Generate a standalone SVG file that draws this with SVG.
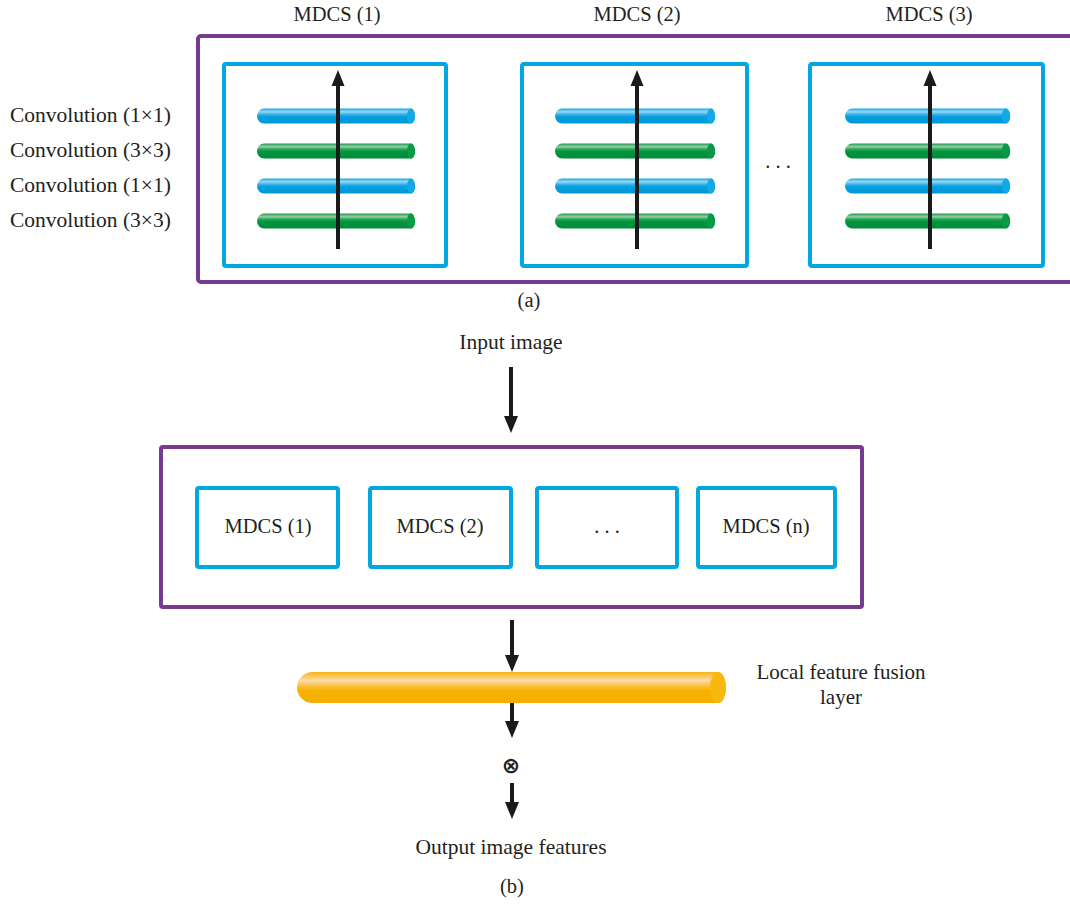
<svg xmlns="http://www.w3.org/2000/svg" xmlns:xlink="http://www.w3.org/1999/xlink" width="1070" height="904" viewBox="0 0 1070 904">
<defs>
<style>
text{font-family:"Liberation Serif","Times New Roman",serif;font-size:20.5px;fill:#231f20}
.c{text-anchor:middle}
.w{font-size:21.5px}
.purple{fill:none;stroke:#763a8f;stroke-width:4}
.cyan{fill:none;stroke:#00a7e1;stroke-width:4}
.arr{stroke:#1a1a1a;stroke-width:4;fill:none}
.head{fill:#1a1a1a}
</style>
<linearGradient id="gB" x1="0" y1="0" x2="0" y2="1">
<stop offset="0" stop-color="#1aa6e2"/>
<stop offset="0.22" stop-color="#9ad8f4"/>
<stop offset="0.38" stop-color="#3db4e8"/>
<stop offset="0.55" stop-color="#00a0df"/>
<stop offset="1" stop-color="#0096d6"/>
</linearGradient>
<linearGradient id="gG" x1="0" y1="0" x2="0" y2="1">
<stop offset="0" stop-color="#1a9c4c"/>
<stop offset="0.22" stop-color="#94d0a4"/>
<stop offset="0.38" stop-color="#2aa458"/>
<stop offset="0.55" stop-color="#009540"/>
<stop offset="1" stop-color="#008c3a"/>
</linearGradient>
<linearGradient id="gY" x1="0" y1="0" x2="0" y2="1">
<stop offset="0" stop-color="#f7b414"/>
<stop offset="0.28" stop-color="#fddcaa"/>
<stop offset="0.45" stop-color="#f9c040"/>
<stop offset="0.6" stop-color="#f7b200"/>
<stop offset="1" stop-color="#f5ae00"/>
</linearGradient>
<g id="rodB">
<path d="M7,-7.5 H154 A4,7.5 0 0 1 154,7.5 H7 A7,7.5 0 0 1 7,-7.5 Z" fill="url(#gB)"/>
<ellipse cx="154" cy="0" rx="4" ry="7.5" fill="#13a9e6"/>
</g>
<g id="rodG">
<path d="M7,-7.5 H154 A4,7.5 0 0 1 154,7.5 H7 A7,7.5 0 0 1 7,-7.5 Z" fill="url(#gG)"/>
<ellipse cx="154" cy="0" rx="4" ry="7.5" fill="#0a9a45"/>
</g>
<g id="stack">
<use xlink:href="#rodB" y="116"/>
<use xlink:href="#rodG" y="151"/>
<use xlink:href="#rodB" y="186"/>
<use xlink:href="#rodG" y="221"/>
</g>
</defs>
<rect width="1070" height="904" fill="#ffffff"/>

<!-- Part (a) -->
<g id="labels-a">
<text x="337" y="21" class="c">MDCS (1)</text>
<text x="637" y="21" class="c">MDCS (2)</text>
<text x="929" y="21" class="c">MDCS (3)</text>
<text x="10" y="122" class="w">Convolution (1×1)</text>
<text x="10" y="157" class="w">Convolution (3×3)</text>
<text x="10" y="192" class="w">Convolution (1×1)</text>
<text x="10" y="227" class="w">Convolution (3×3)</text>
<text x="778" y="168" class="c">. . .</text>
<text x="529" y="307" class="c">(a)</text>
</g>
<g id="container-a">
<rect x="198" y="36" width="900" height="246" rx="3" class="purple"/>
</g>
<g id="mdcs-a1">
<rect x="224" y="64" width="222" height="202" rx="2" class="cyan"/>
<use xlink:href="#stack" transform="translate(257,0)"/>
</g>
<g id="mdcs-a2">
<rect x="522" y="64" width="225" height="202" rx="2" class="cyan"/>
<use xlink:href="#stack" transform="translate(555,0) scale(1.013,1)"/>
</g>
<g id="mdcs-a3">
<rect x="810" y="64" width="233" height="202" rx="2" class="cyan"/>
<use xlink:href="#stack" transform="translate(845,0) scale(1.045,1)"/>
</g>
<g id="inner-arrows-a">
<line x1="338" y1="249" x2="338" y2="82" class="arr"/>
<path d="M331.5,86 L338,70 L344.5,86 Z" class="head"/>
<line x1="637" y1="249" x2="637" y2="82" class="arr"/>
<path d="M630.5,86 L637,70 L643.5,86 Z" class="head"/>
<line x1="930" y1="249" x2="930" y2="82" class="arr"/>
<path d="M923.5,86 L930,70 L936.5,86 Z" class="head"/>
</g>

<!-- Part (b) -->
<g id="input-label"><text x="511" y="349" class="c w">Input image</text></g>
<g id="container-b">
<rect x="161" y="447" width="701" height="160" rx="2" class="purple"/>
</g>
<g id="mdcs-b1">
<rect x="197" y="488" width="141" height="79" rx="2" class="cyan"/>
<text x="268" y="533" class="c">MDCS (1)</text>
</g>
<g id="mdcs-b2">
<rect x="370" y="488" width="141" height="79" rx="2" class="cyan"/>
<text x="440" y="533" class="c">MDCS (2)</text>
</g>
<g id="mdcs-b3">
<rect x="537" y="488" width="140" height="79" rx="2" class="cyan"/>
<text x="607" y="533" class="c">. . .</text>
</g>
<g id="mdcs-bn">
<rect x="698" y="488" width="137" height="79" rx="2" class="cyan"/>
<text x="766" y="533" class="c">MDCS (n)</text>
</g>
<g id="fusion-layer">
<path d="M313,672 H718 A8,15.5 0 0 1 718,703 H313 A16,15.5 0 0 1 313,672 Z" fill="url(#gY)"/>
<ellipse cx="718" cy="687.5" rx="8" ry="15.5" fill="#f8b80e"/>
</g>
<g id="fusion-label">
<text x="841" y="679" class="c" style="font-size:21px">Local feature fusion</text>
<text x="841" y="704" class="c" style="font-size:21px">layer</text>
</g>
<g id="multiply">
<text x="511" y="773" class="c" style="font-family:'DejaVu Sans',sans-serif;font-size:22px;font-weight:bold">⊗</text>
</g>
<g id="output-label">
<text x="511" y="854" class="c w">Output image features</text>
<text x="512" y="893" class="c">(b)</text>
</g>
<g id="connectors">
<line x1="511" y1="367" x2="511" y2="418" class="arr"/>
<path d="M504,416 L511,433 L518,416 Z" class="head"/>
<line x1="512" y1="620" x2="512" y2="657" class="arr"/>
<path d="M505,655 L512,672 L519,655 Z" class="head"/>
<line x1="512" y1="703" x2="512" y2="723" class="arr"/>
<path d="M505,721 L512,738 L519,721 Z" class="head"/>
<line x1="512" y1="783" x2="512" y2="804" class="arr"/>
<path d="M505,802 L512,819 L519,802 Z" class="head"/>
</g>
</svg>
